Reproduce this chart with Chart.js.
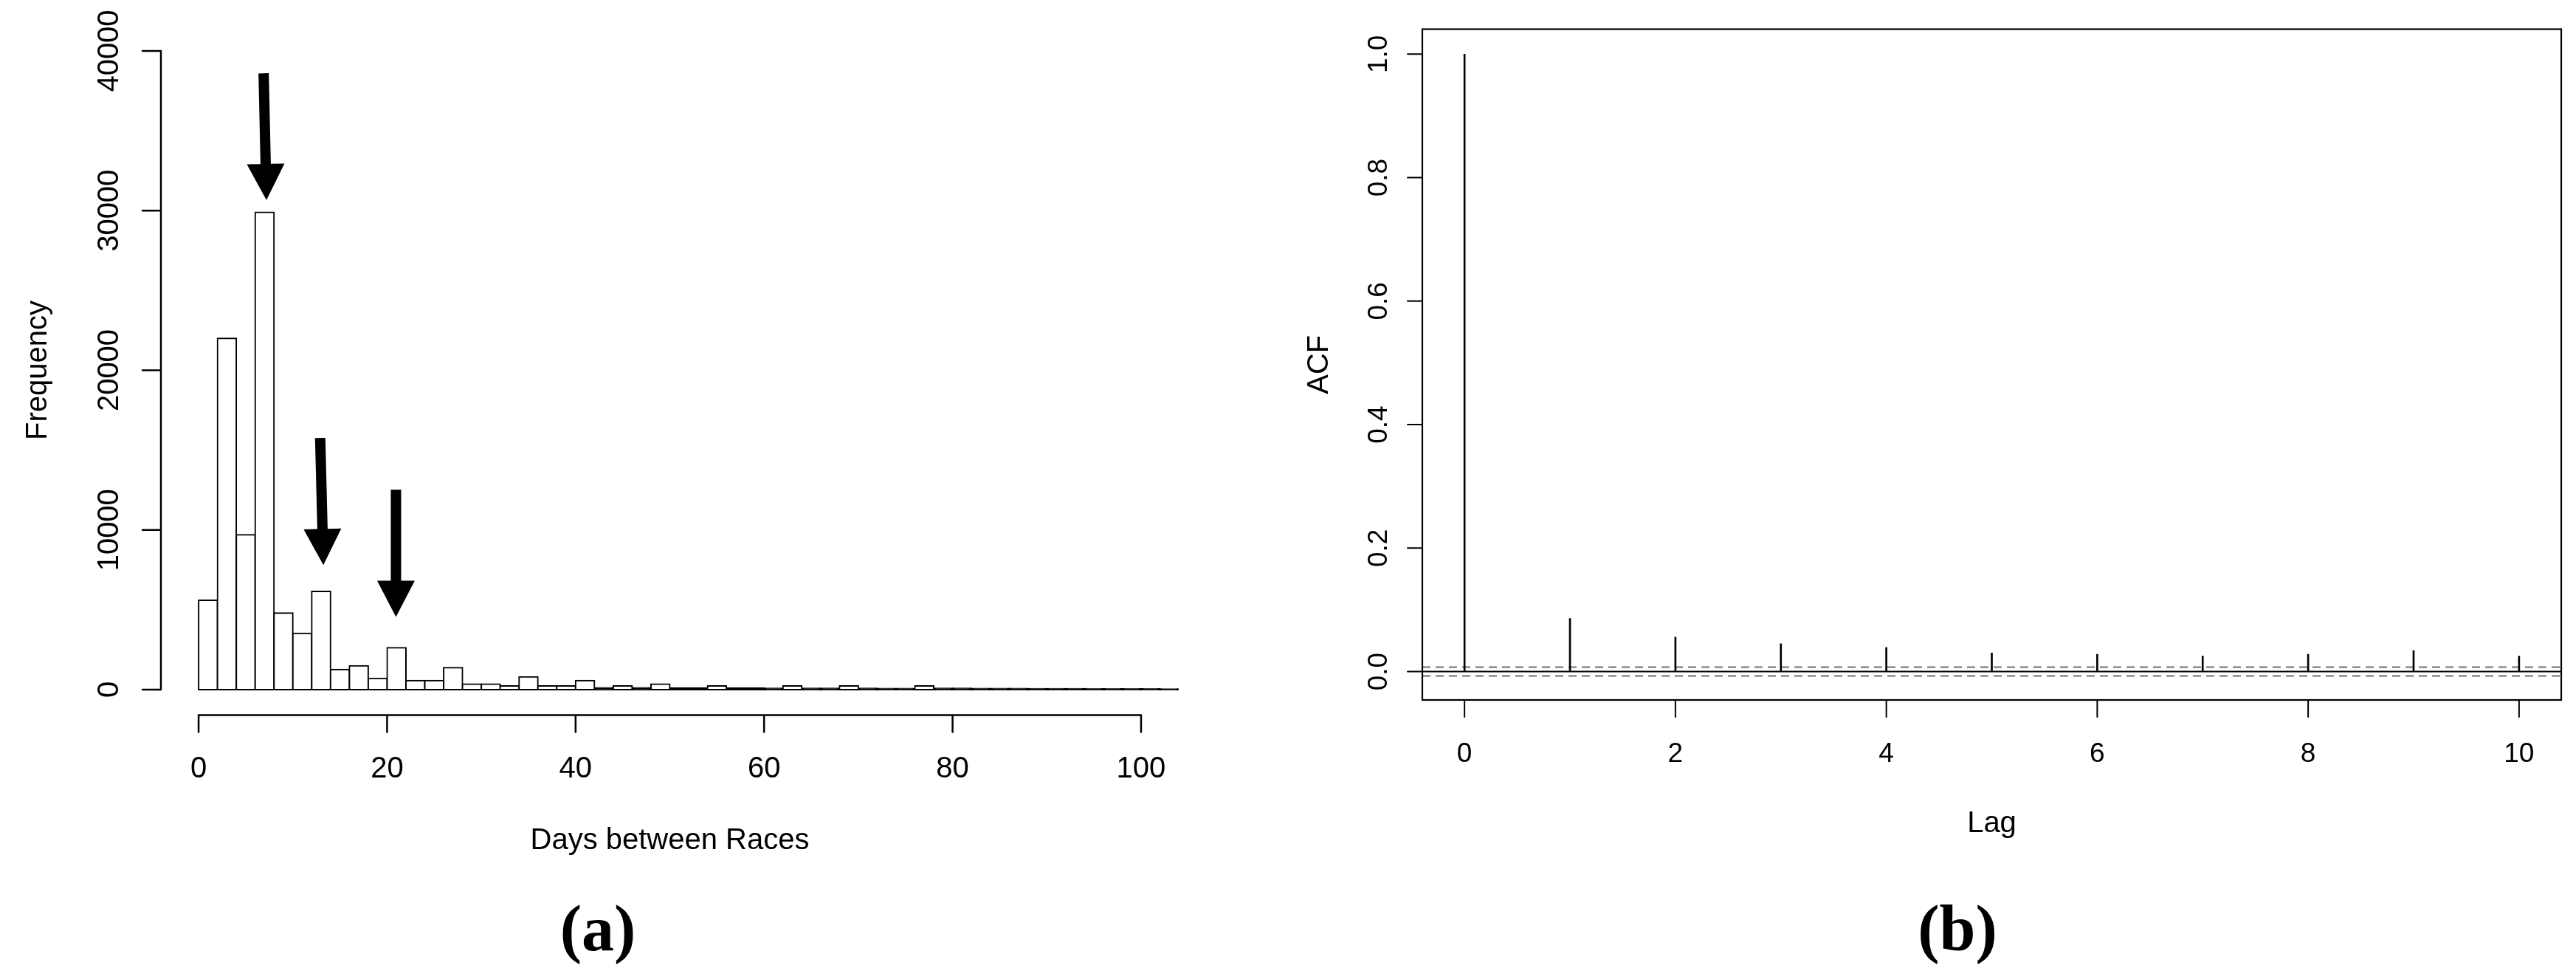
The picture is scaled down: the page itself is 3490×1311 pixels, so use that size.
<!DOCTYPE html>
<html>
<head>
<meta charset="utf-8">
<script src="https://cdn.jsdelivr.net/npm/chart.js@4.4.0/dist/chart.umd.min.js"></script>
<style>
  html, body { margin: 0; padding: 0; background: #fff; }
  body { width: 3490px; height: 1311px; position: relative; overflow: hidden; }
  canvas { position: absolute; top: 0; }
  #hist-chart { left: 0; }
  #acf-chart { left: 1745px; }
  .panel-label {
    position: absolute; top: 1214px; width: 400px; text-align: center;
    font: bold 88px "Liberation Serif", "Times New Roman", serif;
    line-height: 88px; color: #000;
  }
</style>
</head>
<body>
<canvas id="hist-chart" width="1745" height="1311"></canvas>
<canvas id="acf-chart" width="1745" height="1311"></canvas>
<div class="panel-label" style="left:610px">(a)</div>
<div class="panel-label" style="left:2452px">(b)</div>
<script>
// data (a): days between races, 2-day bins
const binWidth = 2
const binStarts = [0, 2, 4, 6, 8, 10, 12, 14, 16, 18, 20, 22, 24, 26, 28, 30, 32, 34, 36, 38, 40, 42, 44, 46, 48, 50,
	52, 54, 56, 58, 60, 62, 64, 66, 68, 70, 72, 74, 76, 78, 80, 82, 84, 86, 88, 90, 92, 94, 96, 98, 100, 102]
const binCounts = [5600, 22000, 9700, 29900, 4800, 3530, 6150, 1260, 1490, 700, 2630, 570, 570, 1370, 350, 350, 230, 800, 230, 230, 570, 120, 230, 110, 350, 100,
	100, 230, 90, 90, 80, 230, 80, 80, 230, 80, 70, 70, 230, 80, 80, 70, 70, 70, 60, 60, 60, 50, 50, 50, 50, 40]
const histTicksX = [0, 20, 40, 60, 80, 100]
const histTicksY = [0, 10000, 20000, 30000, 40000]

// arrows pointing at the 7, 14 and 21 day peaks (data coords)
const arrowTailDays = [6.9, 12.9, 20.94]
const arrowTailCounts = [38600, 15760, 12520]
const arrowTipDays = [7.2, 13.24, 20.94]
const arrowTipCounts = [30660, 7800, 4560]

// data (b): autocorrelation by lag
const lags = [0, 1, 2, 3, 4, 5, 6, 7, 8, 9, 10]
const acfValues = [1.0, 0.086, 0.056, 0.045, 0.039, 0.030, 0.028, 0.025, 0.028, 0.034, 0.025]
const ciBound = 0.0072
const acfTicksX = [0, 2, 4, 6, 8, 10]
const acfTicksY = [0, 0.2, 0.4, 0.6, 0.8, 1.0]
const acfLabelsY = ['0.0', '0.2', '0.4', '0.6', '0.8', '1.0']

// styles
const ink = '#000'
const sans = '"Liberation Sans", Arial, sans-serif'

// helpers: R style axes drawn through the chart scales
const drawBottomAxis = (chart, ticks, labels, cfg) => {
	const { ctx, chartArea } = chart
	const xs = chart.scales.x
	const y0 = chartArea.bottom
	ctx.save()
	ctx.strokeStyle = ink
	ctx.lineWidth = cfg.lineWidth
	ctx.lineCap = 'round'
	ctx.beginPath()
	ctx.moveTo(xs.getPixelForValue(ticks[0]), y0)
	ctx.lineTo(xs.getPixelForValue(ticks[ticks.length - 1]), y0)
	ticks.forEach(v => {
		const px = xs.getPixelForValue(v)
		ctx.moveTo(px, y0)
		ctx.lineTo(px, y0 + cfg.tickLen)
	})
	ctx.stroke()
	ctx.fillStyle = ink
	ctx.textAlign = 'center'
	ctx.textBaseline = 'alphabetic'
	ctx.font = cfg.font
	ticks.forEach((v, i) => ctx.fillText(labels[i], xs.getPixelForValue(v), cfg.labelY))
	ctx.font = cfg.titleFont
	ctx.fillText(cfg.title, (chartArea.left + chartArea.right) / 2, cfg.titleY)
	ctx.restore()
}

const drawLeftAxis = (chart, ticks, labels, cfg) => {
	const { ctx, chartArea } = chart
	const ys = chart.scales.y
	const x0 = chartArea.left
	ctx.save()
	ctx.strokeStyle = ink
	ctx.lineWidth = cfg.lineWidth
	ctx.lineCap = 'round'
	ctx.beginPath()
	ctx.moveTo(x0, ys.getPixelForValue(ticks[0]))
	ctx.lineTo(x0, ys.getPixelForValue(ticks[ticks.length - 1]))
	ticks.forEach(v => {
		const py = ys.getPixelForValue(v)
		ctx.moveTo(x0, py)
		ctx.lineTo(x0 - cfg.tickLen, py)
	})
	ctx.stroke()
	ctx.fillStyle = ink
	ctx.textAlign = 'center'
	ctx.textBaseline = 'alphabetic'
	ctx.font = cfg.font
	ticks.forEach((v, i) => {
		ctx.save()
		ctx.translate(cfg.labelX, ys.getPixelForValue(v))
		ctx.rotate(-Math.PI / 2)
		ctx.fillText(labels[i], 0, 0)
		ctx.restore()
	})
	ctx.font = cfg.titleFont
	ctx.translate(cfg.titleX, (chartArea.top + chartArea.bottom) / 2)
	ctx.rotate(-Math.PI / 2)
	ctx.fillText(cfg.title, 0, 0)
	ctx.restore()
}

const drawArrow = (ctx, x0, y0, x1, y1) => {
	const headLen = 49, headHalf = 25.5, shaftHalf = 7
	const len = Math.hypot(x1 - x0, y1 - y0)
	const ux = (x1 - x0) / len, uy = (y1 - y0) / len
	const nx = -uy, ny = ux
	const bx = x1 - ux * headLen, by = y1 - uy * headLen
	ctx.beginPath()
	ctx.moveTo(x0 + nx * shaftHalf, y0 + ny * shaftHalf)
	ctx.lineTo(bx + nx * shaftHalf, by + ny * shaftHalf)
	ctx.lineTo(bx + nx * headHalf, by + ny * headHalf)
	ctx.lineTo(x1, y1)
	ctx.lineTo(bx - nx * headHalf, by - ny * headHalf)
	ctx.lineTo(bx - nx * shaftHalf, by - ny * shaftHalf)
	ctx.lineTo(x0 - nx * shaftHalf, y0 - ny * shaftHalf)
	ctx.closePath()
	ctx.fill()
}

// tiny bars merge into one black stroke, as in the original
const barIsThin = c => {
	const ys = c.chart.scales.y
	if (!ys || !c.parsed) return false
	return ys.getPixelForValue(0) - ys.getPixelForValue(c.parsed.y) < 4
}

// plugins
const histDecor = {
	id: 'histDecor',
	afterDatasetsDraw(chart) {
		const { ctx } = chart
		const xs = chart.scales.x, ys = chart.scales.y
		ctx.save()
		ctx.fillStyle = ink
		arrowTipDays.forEach((d, i) => {
			drawArrow(ctx,
				xs.getPixelForValue(arrowTailDays[i]), ys.getPixelForValue(arrowTailCounts[i]),
				xs.getPixelForValue(d), ys.getPixelForValue(arrowTipCounts[i]))
		})
		ctx.restore()

		drawLeftAxis(chart, histTicksY, histTicksY.map(String), {
			lineWidth: 2.5, tickLen: 25, font: `40px ${sans}`, labelX: 160,
			title: 'Frequency', titleFont: `40px ${sans}`, titleX: 63
		})
		drawBottomAxis(chart, histTicksX, histTicksX.map(String), {
			lineWidth: 2.5, tickLen: 23, font: `40px ${sans}`, labelY: 1053,
			title: 'Days between Races', titleFont: `40px ${sans}`, titleY: 1150
		})
	}
}

const acfDecor = {
	id: 'acfDecor',
	afterDatasetsDraw(chart) {
		const { ctx, chartArea } = chart
		ctx.save()
		ctx.strokeStyle = ink
		ctx.lineWidth = 2.2
		ctx.strokeRect(chartArea.left, chartArea.top, chartArea.right - chartArea.left, chartArea.bottom - chartArea.top)
		ctx.restore()

		drawLeftAxis(chart, acfTicksY, acfLabelsY, {
			lineWidth: 2, tickLen: 20, font: `37px ${sans}`, labelX: 134,
			title: 'ACF', titleFont: `40px ${sans}`, titleX: 54
		})
		drawBottomAxis(chart, acfTicksX, acfTicksX.map(String), {
			lineWidth: 2, tickLen: 23, font: `37px ${sans}`, labelY: 1032,
			title: 'Lag', titleFont: `40px ${sans}`, titleY: 1127
		})
	}
}

const baseOpts = {
	responsive: false,
	animation: false,
	devicePixelRatio: 1,
	plugins: { legend: { display: false }, tooltip: { enabled: false } }
}

// chart (a)
const histChart = new Chart(document.querySelector('#hist-chart'), {
	type: 'bar',
	data: {
		datasets: [{
			data: binStarts.map((s, i) => ({ x: s + binWidth / 2, y: binCounts[i] })),
			backgroundColor: c => barIsThin(c) ? ink : '#fff',
			borderColor: ink,
			borderWidth: 2,
			borderSkipped: false,
			inflateAmount: 1,
			barPercentage: 1,
			categoryPercentage: 1
		}]
	},
	options: {
		...baseOpts,
		layout: { padding: { left: 218, right: 148, top: 34.4, bottom: 342.4 } },
		scales: {
			x: { type: 'linear', min: -4, max: 104, offset: false, display: false,
				afterBuildTicks: s => { s.ticks = histTicksX.map(v => ({ value: v })) } },
			y: { type: 'linear', min: -1600, max: 41600, display: false }
		}
	},
	plugins: [histDecor]
})

// chart (b)
const acfXMin = -0.4, acfXMax = 10.4
const hLine = (y, color, dash) => ({
	type: 'line',
	data: [{ x: acfXMin, y }, { x: acfXMax, y }],
	borderColor: color,
	borderWidth: 2,
	borderDash: dash,
	pointRadius: 0
})

const acfChart = new Chart(document.querySelector('#acf-chart'), {
	type: 'bar',
	data: {
		datasets: [
			{
				type: 'bar',
				data: lags.map((l, i) => ({ x: l, y: acfValues[i] })),
				backgroundColor: ink,
				borderWidth: 0,
				barThickness: 2
			},
			hLine(0, ink, []),
			hLine(ciBound, '#6f6f6f', [11, 7]),
			hLine(-ciBound, '#6f6f6f', [11, 7])
		]
	},
	options: {
		...baseOpts,
		layout: { padding: { left: 182, right: 20, top: 39.5, bottom: 363 } },
		scales: {
			x: { type: 'linear', min: acfXMin, max: acfXMax, offset: false, display: false,
				afterBuildTicks: s => { s.ticks = acfTicksX.map(v => ({ value: v })) } },
			y: { type: 'linear', min: -0.046, max: 1.0405, display: false }
		}
	},
	plugins: [acfDecor]
})
</script>
</body>
</html>
